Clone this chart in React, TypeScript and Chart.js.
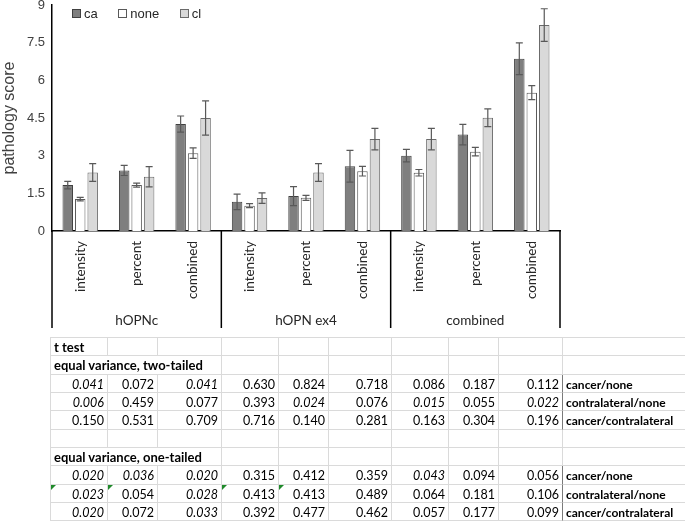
import React, { useEffect, useRef } from "react";
import { Chart, registerables } from "chart.js";

Chart.register(...registerables);

// ---------- data ----------
const categories = ["intensity", "percent", "combined", "intensity", "percent", "combined", "intensity", "percent", "combined"];
const groups = ["hOPNc", "hOPN ex4", "combined"];
const seriesNames = ["ca", "none", "cl"];
const caValues = [1.83, 2.41, 4.26, 1.16, 1.39, 2.58, 3.0, 3.84, 6.86];
const caErrors = [0.15, 0.2, 0.32, 0.31, 0.38, 0.63, 0.25, 0.41, 0.63];
const noneValues = [1.27, 1.83, 3.1, 1.01, 1.32, 2.38, 2.32, 3.16, 5.51];
const noneErrors = [0.07, 0.08, 0.21, 0.08, 0.1, 0.19, 0.13, 0.17, 0.28];
const clValues = [2.33, 2.16, 4.5, 1.31, 2.33, 3.66, 3.66, 4.51, 8.2];
const clErrors = [0.35, 0.4, 0.68, 0.21, 0.35, 0.43, 0.43, 0.35, 0.65];
const yMin = 0;
const yMax = 9;
const yStep = 1.5;

const tableTitle = "t test";
const twoTailedTitle = "equal variance, two-tailed";
const oneTailedTitle = "equal variance, one-tailed";
const comparisons = ["cancer/none", "contralateral/none", "cancer/contralateral"];
const twoTailed = [
  [0.041, 0.072, 0.041, 0.63, 0.824, 0.718, 0.086, 0.187, 0.112],
  [0.006, 0.459, 0.077, 0.393, 0.024, 0.076, 0.015, 0.055, 0.022],
  [0.15, 0.531, 0.709, 0.716, 0.14, 0.281, 0.163, 0.304, 0.196],
];
const oneTailed = [
  [0.02, 0.036, 0.02, 0.315, 0.412, 0.359, 0.043, 0.094, 0.056],
  [0.023, 0.054, 0.028, 0.413, 0.413, 0.489, 0.064, 0.181, 0.106],
  [0.02, 0.072, 0.033, 0.392, 0.477, 0.462, 0.057, 0.177, 0.099],
];
// cells showing the green spreadsheet marker: [row in oneTailed, column]
const flaggedOneTailed = [[1, 0], [1, 1], [1, 3], [1, 4]];

// ---------- styles ----------
const fills = ["#7f7f7f", "#ffffff", "#d9d9d9"];
const borders = ["#404040", "#595959", "#6a6a6a"];
const colWidths = [57, 50, 64, 57, 50, 63, 57, 50, 64, 130];
const rowH = 18.33;
const gridColor = "#dadada";

const errorBarPlugin = {
  id: "errorBars",
  afterDatasetsDraw(chart: any) {
    const ctx = chart.ctx;
    const y = chart.scales.y;
    chart.data.datasets.forEach((ds: any, i: number) => {
      const meta = chart.getDatasetMeta(i);
      meta.data.forEach((bar: any, j: number) => {
        const v = ds.data[j];
        const e = ds.errors[j];
        const top = y.getPixelForValue(v + e);
        const bot = y.getPixelForValue(v - e);
        ctx.save();
        ctx.strokeStyle = "#595959";
        ctx.lineWidth = 1.2;
        ctx.beginPath();
        ctx.moveTo(bar.x, top);
        ctx.lineTo(bar.x, bot);
        ctx.moveTo(bar.x - 3.5, top);
        ctx.lineTo(bar.x + 3.5, top);
        ctx.moveTo(bar.x - 3.5, bot);
        ctx.lineTo(bar.x + 3.5, bot);
        ctx.stroke();
        ctx.restore();
      });
    });
  },
};

const groupPlugin = {
  id: "groupAxis",
  afterDraw(chart: any) {
    const ctx = chart.ctx;
    const x = chart.scales.x;
    const area = chart.chartArea;
    const per = categories.length / groups.length;
    const half = (x.getPixelForValue(1) - x.getPixelForValue(0)) / 2;
    ctx.save();
    ctx.strokeStyle = "#000";
    ctx.lineWidth = 1.5;
    for (let g = 0; g <= groups.length; g++) {
      const px = g < groups.length ? x.getPixelForValue(g * per) - half : x.getPixelForValue(categories.length - 1) + half;
      ctx.beginPath();
      ctx.moveTo(px, area.bottom);
      ctx.lineTo(px, area.bottom + 97);
      ctx.stroke();
    }
    ctx.fillStyle = "#262626";
    ctx.font = "13.5px Lato";
    ctx.textAlign = "center";
    ctx.textBaseline = "middle";
    groups.forEach((name, g) => {
      const a = x.getPixelForValue(g * per) - half;
      const b = x.getPixelForValue(g * per + per - 1) + half;
      ctx.fillText(name, (a + b) / 2, area.bottom + 90);
    });
    ctx.restore();
  },
};

function ChartCanvas() {
  const ref = useRef<HTMLCanvasElement | null>(null);
  useEffect(() => {
    if (!ref.current) return;
    const values = [caValues, noneValues, clValues];
    const errors = [caErrors, noneErrors, clErrors];
    const chart = new Chart(ref.current, {
      type: "bar",
      data: {
        labels: categories,
        datasets: seriesNames.map((name, i) => ({
          label: name,
          data: values[i],
          errors: errors[i],
          backgroundColor: fills[i],
          borderColor: borders[i],
          borderWidth: 1,
          categoryPercentage: 0.663,
          barPercentage: 0.84,
        })) as any,
      },
      options: {
        responsive: false,
        animation: false,
        devicePixelRatio: 1,
        layout: { padding: { left: 0, right: 125, top: 5, bottom: 0 } },
        plugins: { legend: { display: false }, tooltip: { enabled: false } },
        scales: {
          x: {
            grid: { display: false, drawTicks: false },
            border: { display: true, color: "#000", width: 1.5 },
            ticks: {
              autoSkip: false,
              minRotation: 90,
              maxRotation: 90,
              padding: 10,
              color: "#262626",
              font: { family: "Lato", size: 13.5 },
            },
            afterFit(s: any) {
              s.height = 107;
              s.paddingLeft = 0;
              s.paddingRight = 0;
            },
          },
          y: {
            min: yMin,
            max: yMax,
            grid: { display: false, drawTicks: false },
            border: { display: true, color: "#000", width: 1.5 },
            ticks: {
              stepSize: yStep,
              padding: 7,
              color: "#404040",
              font: { family: "Liberation Sans", size: 13 },
            },
            title: {
              display: true,
              text: "pathology score",
              padding: 0,
              color: "#404040",
              font: { family: "Liberation Sans", size: 16 },
            },
            afterFit(s: any) {
              s.width = 52;
              s.paddingTop = 0;
              s.paddingBottom = 0;
            },
          },
        },
      },
      plugins: [errorBarPlugin, groupPlugin],
    });
    return () => chart.destroy();
  }, []);
  return <canvas ref={ref} width={685} height={338} style={{ position: "absolute", left: 0, top: 0 }} />;
}

function Legend() {
  return (
    <div
      style={{
        position: "absolute",
        left: 72,
        top: 8,
        height: 11,
        display: "flex",
        alignItems: "center",
        gap: 20.5,
        fontFamily: "Liberation Sans",
        fontSize: 13,
        color: "#262626",
      }}
    >
      {seriesNames.map((n, i) => (
        <div key={n} style={{ display: "flex", alignItems: "center" }}>
          <div style={{ width: 9, height: 9, boxSizing: "border-box", background: fills[i], border: `1px solid ${borders[i]}` }} />
          <span style={{ marginLeft: 3, lineHeight: "11px" }}>{n}</span>
        </div>
      ))}
    </div>
  );
}

function Cell(props: { children?: any; span?: number; bold?: boolean; italic?: boolean; align?: string; darkLeft?: boolean; flag?: boolean; size?: number }) {
  const { children, span, bold, italic, align, darkLeft, flag, size } = props;
  return (
    <div
      style={{
        gridColumn: span ? `span ${span}` : undefined,
        boxSizing: "border-box",
        borderRight: `1px solid ${gridColor}`,
        borderBottom: `1px solid ${gridColor}`,
        borderLeft: darkLeft ? "1.5px solid #7a7a7a" : undefined,
        marginLeft: darkLeft ? -1 : 0,
        fontWeight: bold ? 700 : 400,
        fontStyle: italic ? "italic" : "normal",
        fontSize: size || 12.5,
        textAlign: (align as any) || "left",
        padding: align === "right" ? "1px 3px 0 0" : "1px 0 0 3px",
        lineHeight: `${rowH - 1}px`,
        whiteSpace: "nowrap",
        overflow: "hidden",
        position: "relative",
      }}
    >
      {flag ? (
        <div
          style={{
            position: "absolute",
            left: 0,
            top: 0,
            width: 0,
            height: 0,
            borderTop: "5px solid #1f8a2a",
            borderRight: "5px solid transparent",
          }}
        />
      ) : null}
      {children}
    </div>
  );
}

function PTable() {
  const nData = colWidths.length - 1;
  const rows: any[] = [];
  let k = 0;
  const emptyCells = (from: number) => {
    const out: any[] = [];
    for (let c = from; c < colWidths.length; c++) out.push(<Cell key={k++} />);
    return out;
  };
  rows.push(<Cell key={k++} bold size={13}>{tableTitle}</Cell>, ...emptyCells(1));
  const block = (title: string, data: number[][], flags: number[][]) => {
    rows.push(<Cell key={k++} bold span={3} size={13}>{title}</Cell>, ...emptyCells(3));
    data.forEach((row, r) => {
      for (let c = 0; c < nData; c++) {
        const v = row[c];
        const flag = flags.some(([fr, fc]) => fr === r && fc === c);
        rows.push(
          <Cell key={k++} align="right" italic={v < 0.05} flag={flag}>
            {v.toFixed(3)}
          </Cell>
        );
      }
      rows.push(
        <Cell key={k++} bold darkLeft size={12}>
          {comparisons[r]}
        </Cell>
      );
    });
  };
  block(twoTailedTitle, twoTailed, []);
  rows.push(...emptyCells(0));
  block(oneTailedTitle, oneTailed, flaggedOneTailed);
  return (
    <div
      style={{
        position: "absolute",
        left: 50,
        top: 337,
        display: "grid",
        gridTemplateColumns: colWidths.map((w) => `${w}px`).join(" "),
        gridAutoRows: `${rowH}px`,
        borderTop: `1px solid ${gridColor}`,
        borderLeft: `1px solid ${gridColor}`,
        fontFamily: "Lato",
        color: "#000",
      }}
    >
      {rows}
    </div>
  );
}

export default function App() {
  return (
    <div style={{ position: "absolute", left: 0, top: 0, width: 685, height: 522, overflow: "hidden", background: "#fff" }}>
      <ChartCanvas />
      <Legend />
      <PTable />
    </div>
  );
}
